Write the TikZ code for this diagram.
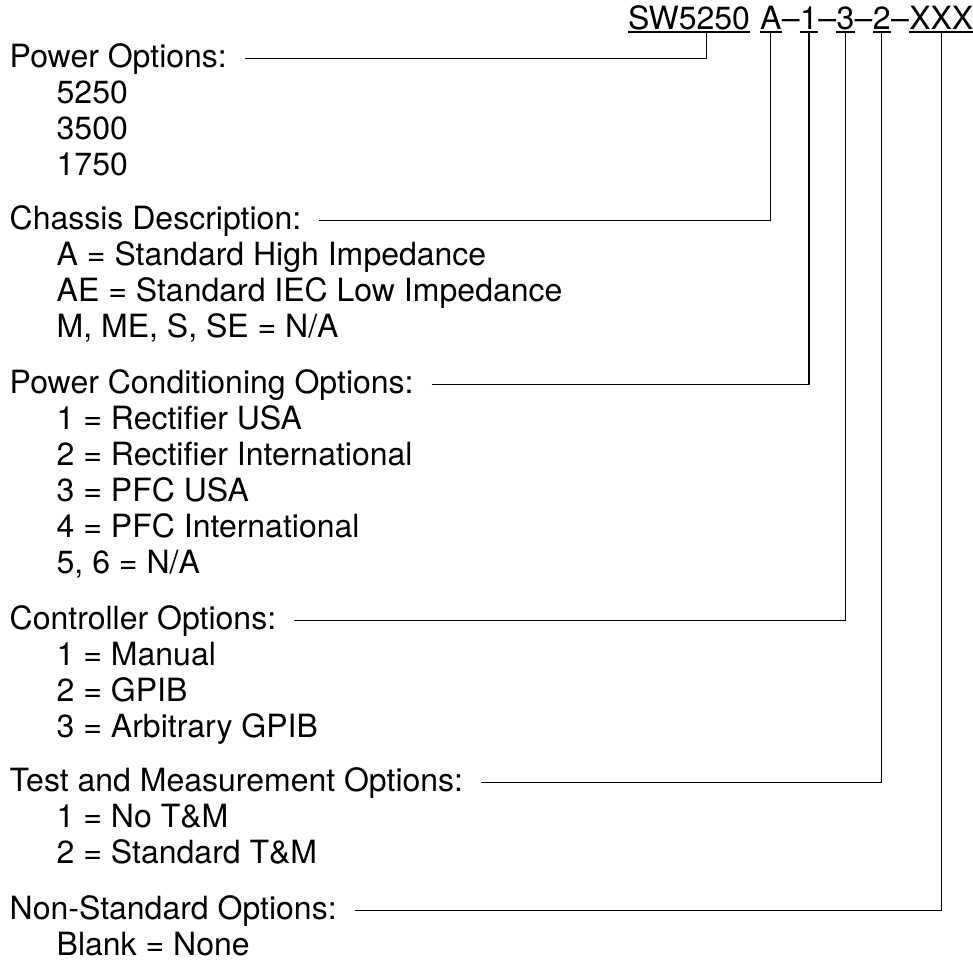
\documentclass[tikz,border=0pt]{standalone}
\usepackage{fontspec}
\setmainfont{TeX Gyre Heros}
\begin{document}
\begin{tikzpicture}[x=1pt,y=-1pt,
  every node/.style={inner sep=0pt, font=\fontsize{32}{36}\selectfont},
  head/.style={anchor=base west, text height=23pt, text depth=6.7pt},
  item/.style={anchor=base west},
  tag/.style={anchor=base west, text depth=2.5pt},
  conn/.style={line width=1.1pt},
  uline/.style={line width=1.8pt}]
\useasboundingbox (0,0) rectangle (973,961);
% title
\node[tag] (sw) at (628,29) {SW5250};
\node[tag] (ta) at (760,29) {A};
\node[anchor=base west] (d1) at (ta.base east) {–};
\node[tag] (t1) at (d1.base east) {1};
\node[anchor=base west] (d2) at (t1.base east) {–};
\node[tag] (t3) at (d2.base east) {3};
\node[anchor=base west] (d3) at (t3.base east) {–};
\node[tag] (t2) at (d3.base east) {2};
\node[anchor=base west] (d4) at (t2.base east) {–};
\node[tag] (tx) at (d4.base east) {XXX};
\foreach \t in {sw,ta,t1,t3,t2,tx}
  \draw[uline] (\t.south west) -- (\t.south east);
% headings and items
\node[head] (po) at (9.5,67) {Power Options:};
\node[item] (po1) at (56.5,103) {5250};
\node[item] (po2) at (56.5,139) {3500};
\node[item] (po3) at (56.5,175) {1750};
\node[head] (cd) at (9.5,229) {Chassis Description:};
\node[item] (cd1) at (56.5,265) {A = Standard High Impedance};
\node[item] (cd2) at (56.5,301) {AE = Standard IEC Low Impedance};
\node[item] (cd3) at (56.5,337) {M, ME, S, SE = N/A};
\node[head] (pc) at (9.5,393) {Power Conditioning Options:};
\node[item] (pc1) at (56.5,429) {1 = Rectifier USA};
\node[item] (pc2) at (56.5,465) {2 = Rectifier International};
\node[item] (pc3) at (56.5,501) {3 = PFC USA};
\node[item] (pc4) at (56.5,537) {4 = PFC International};
\node[item] (pc5) at (56.5,573) {5, 6 = N/A};
\node[head] (co) at (9.5,629) {Controller Options:};
\node[item] (co1) at (56.5,665) {1 = Manual};
\node[item] (co2) at (56.5,701) {2 = GPIB};
\node[item] (co3) at (56.5,737) {3 = Arbitrary GPIB};
\node[head] (tm) at (9.5,791) {Test and Measurement Options:};
\node[item] (tm1) at (56.5,827) {1 = No T\&M};
\node[item] (tm2) at (56.5,863) {2 = Standard T\&M};
\node[head] (ns) at (9.5,919) {Non-Standard Options:};
\node[item] (ns1) at (56.5,955) {Blank = None};
% connectors
\draw[conn] ([xshift=18pt]po.east) -| ([xshift=17.6pt]sw.south);
\draw[conn] ([xshift=18pt]cd.east) -| (ta.south);
\draw[conn] ([xshift=18pt]pc.east) -| (t1.south);
\draw[conn] ([xshift=18pt]co.east) -| (t3.south);
\draw[conn] ([xshift=18pt]tm.east) -| (t2.south);
\draw[conn] ([xshift=18pt]ns.east) -| (tx.south);
\end{tikzpicture}
\end{document}
